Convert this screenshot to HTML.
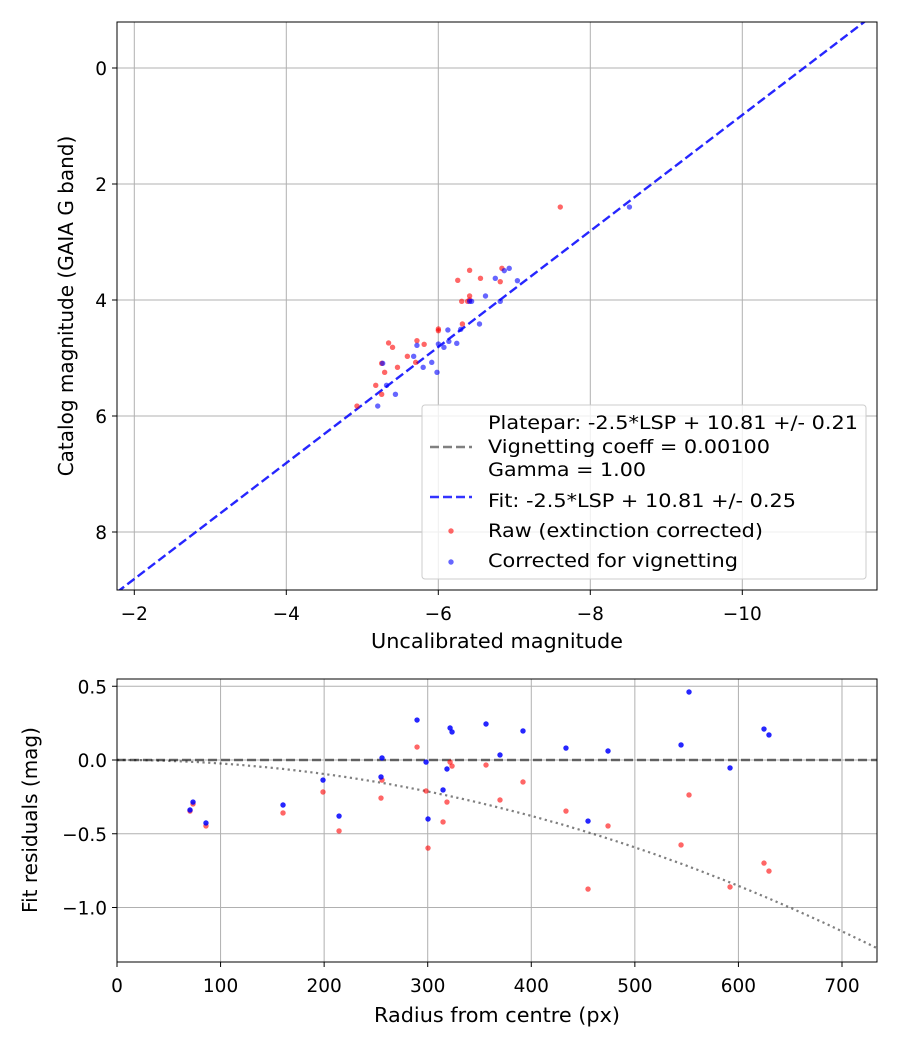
<!DOCTYPE html>
<html><head><meta charset="utf-8"><style>
body{margin:0;background:#fff}
svg{display:block;font-family:"DejaVu Sans","Liberation Sans",sans-serif}
</style></head><body>
<svg id="c" width="900" height="1050" xmlns="http://www.w3.org/2000/svg"></svg>
<script>
// ---- top chart data ----
const catMag = [3.488,3.454,3.661,3.626,3.684,3.931,4.023,4.023,4.414,4.5,4.529,4.701,4.741,4.816,4.764,4.971,5.075,5.161,5.092,5.247,5.471,5.626,5.828,2.397,4.0];
const rawMag = [-6.412,-6.837,-6.256,-6.555,-6.815,-6.412,-6.308,-6.386,-6.317,-6.001,-6.001,-5.719,-5.346,-5.398,-5.814,-5.593,-5.702,-5.463,-5.255,-5.294,-5.177,-5.255,-4.930,-7.605,-6.412];
const catMagB = [3.494,3.454,3.626,3.667,3.931,4.023,4.023,4.023,4.414,4.506,4.517,4.713,4.747,4.816,4.759,4.782,4.971,5.161,5.075,5.247,5.092,5.471,5.626,5.828,2.397];
const corrMag = [-6.868,-6.933,-6.750,-7.041,-6.621,-6.412,-6.438,-6.815,-6.542,-6.295,-6.126,-6.139,-6.243,-6.074,-6.001,-5.719,-5.676,-5.801,-5.914,-5.983,-5.268,-5.319,-5.436,-5.203,-8.515];
const fitOffset = 10.81;
const topXTicks = [-2,-4,-6,-8,-10];
const topYTicks = [0,2,4,6,8];
// ---- bottom chart data ----
const radius = [73.4,70.5,85.9,160.3,198.9,214.4,255.9,254.9,289.7,298.4,321.6,323.5,318.6,314.8,300.3,356.3,369.8,392,433.5,474.1,552.3,544.6,454.8,591.9,624.7,629.5];
const residCorr = [-0.285,-0.339,-0.427,-0.305,-0.136,-0.38,0.014,-0.115,0.271,-0.014,0.217,0.19,-0.061,-0.203,-0.4,0.244,0.034,0.197,0.081,0.061,0.461,0.102,-0.414,-0.054,0.21,0.17];
const residRaw = [-0.298,-0.346,-0.447,-0.359,-0.217,-0.481,-0.136,-0.258,0.088,-0.210,-0.014,-0.041,-0.285,-0.42,-0.597,-0.034,-0.271,-0.149,-0.346,-0.447,-0.237,-0.576,-0.875,-0.861,-0.699,-0.753];
const vignCoeff = 2.37e-6;
const botXTicks = [0,100,200,300,400,500,600,700];
const botYTicks = [0.5,0.0,-0.5,-1.0];

const NS="http://www.w3.org/2000/svg";
const svg=document.getElementById('c');
function mk(tag,attrs,parent){const e=document.createElementNS(NS,tag);for(const k in attrs)e.setAttribute(k,attrs[k]);(parent||svg).appendChild(e);return e;}
function fmt(v,d){const s=v.toFixed(d);return s.replace('-','\u2212');}
const TF=18.5, LF=20;

// top axes
const T={l:117,r:877,t:22,b:590};
const tx=v=>134.3+(-2-v)*76;
const ty=v=>68+v*58;
const gTop=mk('g',{});


topXTicks.forEach(v=>{
  const x=tx(v);
  const gl=mk('line',{x1:x,x2:x,y1:T.t,y2:T.b,stroke:'#b0b0b0','stroke-width':1},gTop);
  
  
  mk('line',{x1:x,x2:x,y1:T.b,y2:T.b+5,stroke:'#000'},gTop);
  const t=mk('text',{x:x,y:T.b+30,'text-anchor':'middle','font-size':TF},gTop);
  t.textContent=fmt(v,0);
  
  
});
topYTicks.forEach(v=>{
  const y=ty(v);
  const gl=mk('line',{x1:T.l,x2:T.r,y1:y,y2:y,stroke:'#b0b0b0','stroke-width':1},gTop);
  
  
  mk('line',{x1:T.l-5,x2:T.l,y1:y,y2:y,stroke:'#000'},gTop);
  const t=mk('text',{x:T.l-10,y:y+7,'text-anchor':'end','font-size':TF},gTop);
  t.textContent=fmt(v,0);
  
  
});
const defs=mk('defs',{});
const cp=mk('clipPath',{id:'ct'},defs);mk('rect',{x:T.l,y:T.t,width:T.r-T.l,height:T.b-T.t},cp);
const cp2=mk('clipPath',{id:'cb'},defs);mk('rect',{x:117,y:679,width:760,height:283},cp2);
const x0=-1.5,x1=-12;
const fit=mk('line',{x1:tx(x0),y1:ty(x0+fitOffset),x2:tx(x1),y2:ty(x1+fitOffset),stroke:'#0000ff','stroke-opacity':0.85,'stroke-width':2.4,'stroke-dasharray':'9,4','clip-path':'url(#ct)'},gTop);


rawMag.forEach((v,i)=>{
  const c=mk('circle',{cx:tx(v),cy:ty(catMag[i]),r:2.7,fill:'#ff0000','fill-opacity':0.6},gTop);
  
  
});
corrMag.forEach((v,i)=>{
  const c=mk('circle',{cx:tx(v),cy:ty(catMagB[i]),r:2.7,fill:'#0000ff','fill-opacity':0.6},gTop);
  
  
});
mk('rect',{x:T.l,y:T.t,width:T.r-T.l,height:T.b-T.t,fill:'none',stroke:'#000','stroke-width':1},gTop);

const xl=mk('text',{x:497,y:648,'text-anchor':'middle','font-size':LF,textLength:252,lengthAdjust:'spacingAndGlyphs'});
xl.textContent='Uncalibrated magnitude';


const yl=mk('text',{x:0,y:0,'text-anchor':'middle','font-size':LF,transform:'translate(73,306) rotate(-90)'});
yl.textContent='Catalog magnitude (GAIA G band)';



// legend
const lg=mk('g',{});


mk('rect',{x:422,y:405,width:444,height:174,rx:3,fill:'#fff','fill-opacity':0.8,stroke:'#cccccc'},lg);
const entries=[
 ['Platepar: -2.5*LSP + 10.81 +/- 0.21',429,370],
 ['Vignetting coeff = 0.00100',453,282],
 ['Gamma = 1.00',476,158],
 ['Fit: -2.5*LSP + 10.81 +/- 0.25',507,308],
 ['Raw (extinction corrected)',537,275],
 ['Corrected for vignetting',567,250]];
entries.forEach(e=>{
  const t=mk('text',{x:488,y:e[1],'font-size':19,textLength:e[2],lengthAdjust:'spacingAndGlyphs'},lg);
  t.textContent=e[0];
  
  
});
mk('line',{x1:430,x2:472,y1:447,y2:447,stroke:'#808080','stroke-width':2.4,'stroke-dasharray':'9,4'},lg);
mk('line',{x1:430,x2:472,y1:497,y2:497,stroke:'#3333ff','stroke-width':2.4,'stroke-dasharray':'9,4'},lg);
mk('circle',{cx:451,cy:531,r:2.7,fill:'#ff0000','fill-opacity':0.6},lg);
mk('circle',{cx:451,cy:562,r:2.7,fill:'#0000ff','fill-opacity':0.6},lg);

// bottom axes
const B={l:117,r:877,t:679,b:962};
const bx=v=>117+v*1.0357;
const by=v=>760-v*147.5;
const gB=mk('g',{});


botXTicks.forEach(v=>{
  const x=bx(v);
  const gl=mk('line',{x1:x,x2:x,y1:B.t,y2:B.b,stroke:'#b0b0b0','stroke-width':1},gB);
  
  
  mk('line',{x1:x,x2:x,y1:B.b,y2:B.b+5,stroke:'#000'},gB);
  const t=mk('text',{x:x,y:B.b+30,'text-anchor':'middle','font-size':TF},gB);
  t.textContent=String(v);
  
  
});
botYTicks.forEach(v=>{
  const y=by(v);
  const gl=mk('line',{x1:B.l,x2:B.r,y1:y,y2:y,stroke:'#b0b0b0','stroke-width':1},gB);
  
  
  mk('line',{x1:B.l-5,x2:B.l,y1:y,y2:y,stroke:'#000'},gB);
  const t=mk('text',{x:B.l-10,y:y+7,'text-anchor':'end','font-size':TF},gB);
  t.textContent=fmt(v,1);
  
  
});
const zl=mk('line',{x1:B.l,x2:B.r,y1:by(0),y2:by(0),stroke:'#000','stroke-opacity':0.55,'stroke-width':2.4,'stroke-dasharray':'9,4'},gB);


let d='';
for(let r=0;r<=740;r+=5){d+=(r?'L':'M')+bx(r).toFixed(1)+','+by(-vignCoeff*r*r).toFixed(1);}
const vc=mk('path',{d:d,fill:'none',stroke:'#000','stroke-opacity':0.5,'stroke-width':2.2,'stroke-dasharray':'2.2,3.5','clip-path':'url(#cb)'},gB);


radius.forEach((r,i)=>{
  const c=mk('circle',{cx:bx(r),cy:by(residRaw[i]),r:2.7,fill:'#ff0000','fill-opacity':0.6},gB);
  
  
});
radius.forEach((r,i)=>{
  const c=mk('circle',{cx:bx(r),cy:by(residCorr[i]),r:2.7,fill:'#0000ff','fill-opacity':0.85},gB);
  
  
});
mk('rect',{x:B.l,y:B.t,width:B.r-B.l,height:B.b-B.t,fill:'none',stroke:'#000','stroke-width':1},gB);
const bxl=mk('text',{x:497,y:1022,'text-anchor':'middle','font-size':LF,textLength:246,lengthAdjust:'spacingAndGlyphs'});
bxl.textContent='Radius from centre (px)';


const byl=mk('text',{x:0,y:0,'text-anchor':'middle','font-size':LF,transform:'translate(37,820) rotate(-90)'});
byl.textContent='Fit residuals (mag)';


</script>
</body></html>
